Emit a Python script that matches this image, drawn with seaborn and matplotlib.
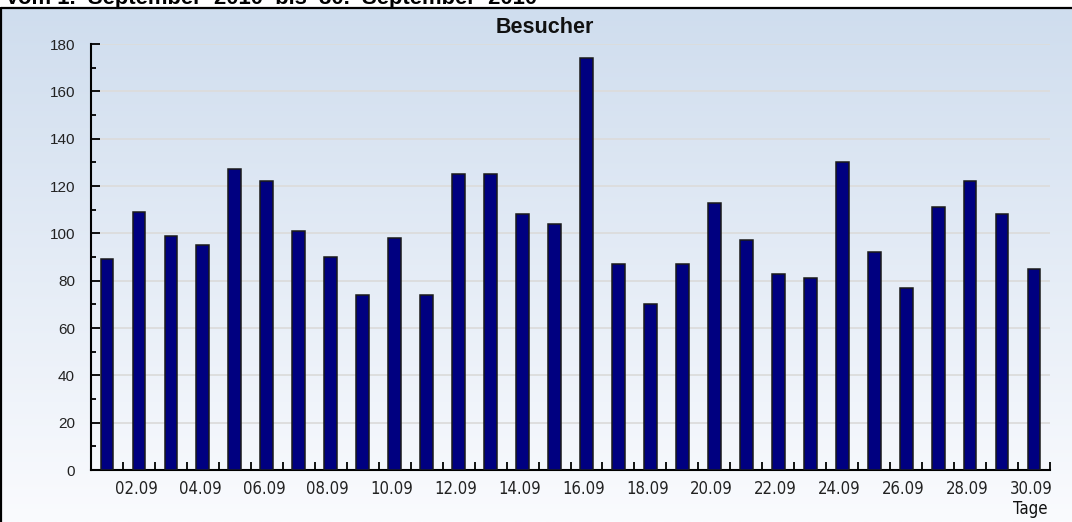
import numpy as np
import pandas as pd
import matplotlib
matplotlib.use("Agg")
import matplotlib.pyplot as plt
import matplotlib.transforms as mtransforms
from matplotlib.ticker import MultipleLocator, FixedLocator
from matplotlib.lines import Line2D
import seaborn as sns

# ---- data ----
days = [f"{d:02d}.09" for d in range(1, 31)]
visitors = [89, 109, 99, 95, 127, 122, 101, 90, 74, 98,
            74, 125, 125, 108, 104, 174, 87, 70, 87, 113,
            97, 83, 81, 130, 92, 77, 111, 122, 108, 85]
yticks = [0, 20, 40, 60, 80, 100, 120, 140, 160, 180]
header = "Vom 1.  September  2010  bis  30.  September  2010"
title = "Besucher"
xlabel = "Tage"

sns.set_theme(style="white")
plt.rcParams['font.family'] = ['Liberation Sans', 'DejaVu Sans']

W, H = 1072, 522
fig = plt.figure(figsize=(W / 100, H / 100), dpi=100)
fig.patch.set_facecolor("white")

# background gradient box
bg = fig.add_axes([0, 0, 1, 1], zorder=-5)
bg.set_xlim(0, W)
bg.set_ylim(H, 0)
bg.axis("off")
top = np.array([207, 221, 238]) / 255
bot = np.array([250, 251, 254]) / 255
t = np.linspace(0, 1, 256)[:, None, None]
grad = top * (1 - t) + bot * t
grad = np.repeat(grad, 2, axis=1)
bg.imshow(grad, extent=[1, W, H, 8], aspect="auto", zorder=0)
bg.add_line(Line2D([1, W], [8, 8], color="black", lw=1.6, zorder=2))
bg.add_line(Line2D([1, 1], [8, H], color="black", lw=1.6, zorder=2))

# main axes
x0, x1, y0, y1 = 91, 1050, 44, 470
ax = fig.add_axes([x0 / W, 1 - y1 / H, (x1 - x0) / W, (y1 - y0) / H])
ax.set_facecolor("none")

df = pd.DataFrame({"Tag": days, "Besucher": visitors})
sns.barplot(data=df, x="Tag", y="Besucher", order=days, color="#000080",
            saturation=1, width=0.4, edgecolor="#1a1a1a", linewidth=1.1,
            ax=ax, zorder=3)

ax.set_xlim(-0.5, len(days) - 0.5)
ax.set_ylim(0, 180)
ax.set_yticks(yticks)
ax.yaxis.set_minor_locator(MultipleLocator(10))
ax.grid(axis="y", color="#dcdcdc", lw=1.3, zorder=0)
ax.set_axisbelow(True)

ax.set_xticks(list(range(1, len(days), 2)))
ax.set_xticklabels(days[1::2])
ax.xaxis.set_minor_locator(FixedLocator([i + 0.5 for i in range(len(days))]))

for s in ["top", "right"]:
    ax.spines[s].set_visible(False)
for s in ["left", "bottom"]:
    ax.spines[s].set_color("black")
    ax.spines[s].set_linewidth(1.5)

ax.tick_params(axis="y", which="major", direction="in", length=6.5, width=1.3,
               color="black", pad=11.5, labelsize=11, left=True)
ax.tick_params(axis="y", which="minor", direction="in", length=3.6, width=1.3,
               color="black", left=True)
ax.tick_params(axis="x", which="major", length=0, pad=7, labelsize=12)
ax.tick_params(axis="x", which="minor", direction="in", length=6, width=1.3,
               color="black", bottom=True)
shift = mtransforms.ScaledTranslation(-3 / 100, 0, fig.dpi_scale_trans)
for lab in ax.get_xticklabels():
    lab.set_family(["DejaVu Sans"])
    lab.set_stretch("condensed")
    lab.set_color("#222222")
    lab.set_transform(lab.get_transform() + shift)
for lab in ax.get_yticklabels():
    lab.set_color("#222222")
ax.set_xlabel("")
ax.set_ylabel("")

fig.text(545 / W, 1 - 33 / H, title, ha="center", va="baseline",
         fontsize=15.5, fontweight="bold", color="#111111")
fig.text(1030 / W, 1 - 514 / H, xlabel, ha="center", va="baseline",
         fontsize=12, color="#111111", family=["DejaVu Sans"], stretch="condensed")
fig.text(5 / W, 1 - 4 / H, header, ha="left", va="baseline",
         fontsize=15.8, fontweight="bold", color="black")

fig.savefig("out.png", dpi=100)
